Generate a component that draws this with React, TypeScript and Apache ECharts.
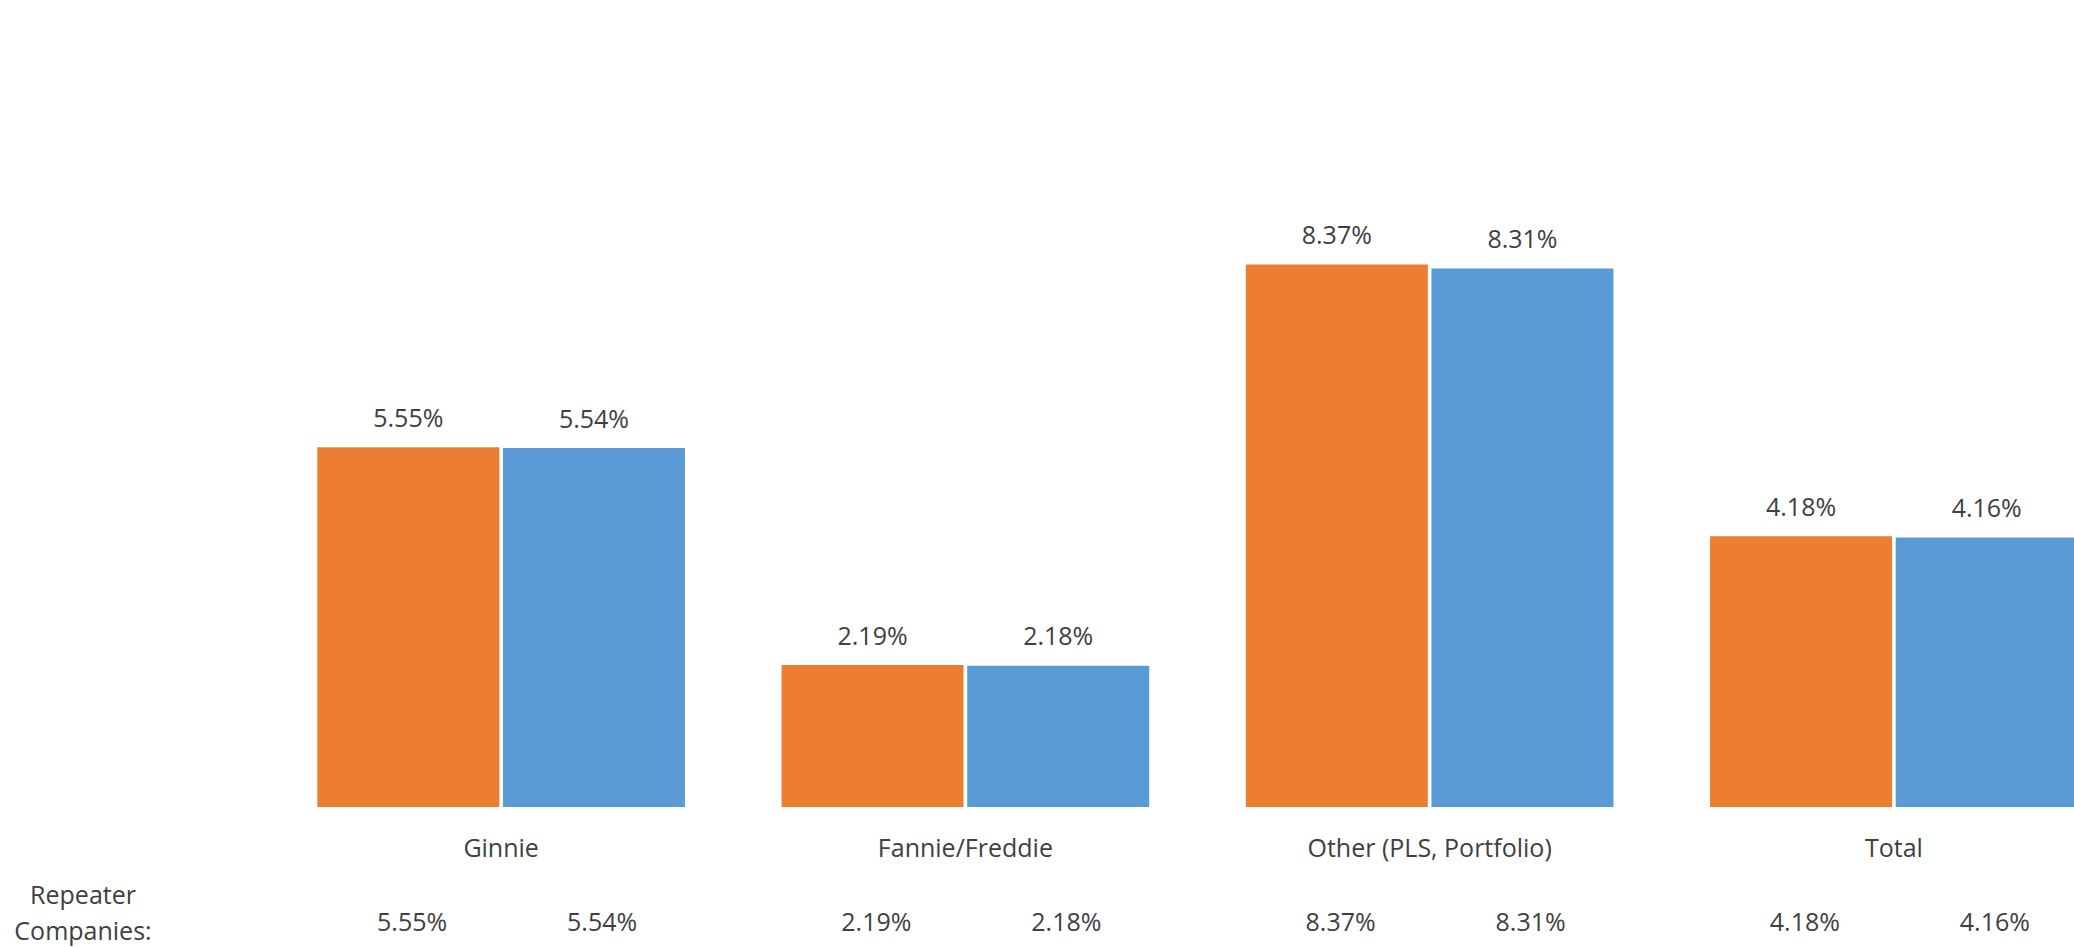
import React, { useEffect, useRef } from "react";
import * as echarts from "echarts";

const categories = ["Ginnie", "Fannie/Freddie", "Other (PLS, Portfolio)", "Total"];
const seriesOrange = [5.55, 2.19, 8.37, 4.18];
const seriesBlue = [5.54, 2.18, 8.31, 4.16];
const repeaterOrange = [5.55, 2.19, 8.37, 4.18];
const repeaterBlue = [5.54, 2.18, 8.31, 4.16];
const rowTitle = "Repeater\nCompanies:";

const FONT = "'Open Sans', 'Noto Sans', sans-serif";
const TEXT = "#404040";

export default function App() {
  const ref = useRef<HTMLDivElement>(null);
  useEffect(() => {
    if (!ref.current) return;
    const chart = echarts.init(ref.current, null, { renderer: "svg" });
    const pct = (v: number) => v.toFixed(2) + "%";
    const barLabel = {
      show: true,
      position: "top",
      distance: 18,
      fontFamily: FONT,
      fontSize: 25,
      color: TEXT,
      formatter: (p: any) => pct(p.value),
    };
    chart.setOption({
      animation: false,
      backgroundColor: "#ffffff",
      textStyle: { fontFamily: FONT },
      grid: { left: 269, top: 159, width: 1857, height: 648, containLabel: false },
      xAxis: [
        {
          type: "category",
          data: categories,
          axisLine: { show: false },
          axisTick: { show: false },
          axisLabel: { margin: 27, fontFamily: FONT, fontSize: 25, color: TEXT, interval: 0 },
        },
        {
          type: "category",
          position: "bottom",
          data: categories,
          axisLine: { show: false },
          axisTick: { show: false },
          axisLabel: {
            margin: 101,
            interval: 0,
            fontFamily: FONT,
            fontSize: 25,
            color: TEXT,
            formatter: (_v: string, i: number) =>
              `{a|${pct(repeaterOrange[i])}}{b|${pct(repeaterBlue[i])}}`,
            rich: {
              a: { width: 202, align: "center", fontFamily: FONT, fontSize: 25, color: TEXT, lineHeight: 25 },
              b: { width: 178, align: "center", fontFamily: FONT, fontSize: 25, color: TEXT, lineHeight: 25 },
            },
          },
        },
      ],
      yAxis: {
        type: "value",
        min: 0,
        max: 10,
        show: false,
        splitLine: { show: false },
      },
      series: [
        {
          type: "bar",
          data: seriesOrange,
          barWidth: 182,
          barGap: "2%",
          itemStyle: { color: "#ED7D31" },
          label: barLabel,
        },
        {
          type: "bar",
          data: seriesBlue,
          barWidth: 182,
          barGap: "2%",
          itemStyle: { color: "#5B9BD5" },
          label: barLabel,
        },
      ],
      graphic: [
        {
          type: "text",
          x: 83,
          y: 912,
          style: {
            text: rowTitle,
            fontFamily: FONT,
            fontSize: 25,
            lineHeight: 36,
            fill: TEXT,
            align: "center",
            verticalAlign: "middle",
          },
        },
      ],
    });
    return () => chart.dispose();
  }, []);
  return (
    <div
      style={{
        position: "absolute",
        left: 0,
        top: 0,
        width: 2074,
        height: 947,
        overflow: "hidden",
        background: "#fff",
      }}
    >
      <div ref={ref} style={{ width: 2140, height: 947 }} />
    </div>
  );
}
